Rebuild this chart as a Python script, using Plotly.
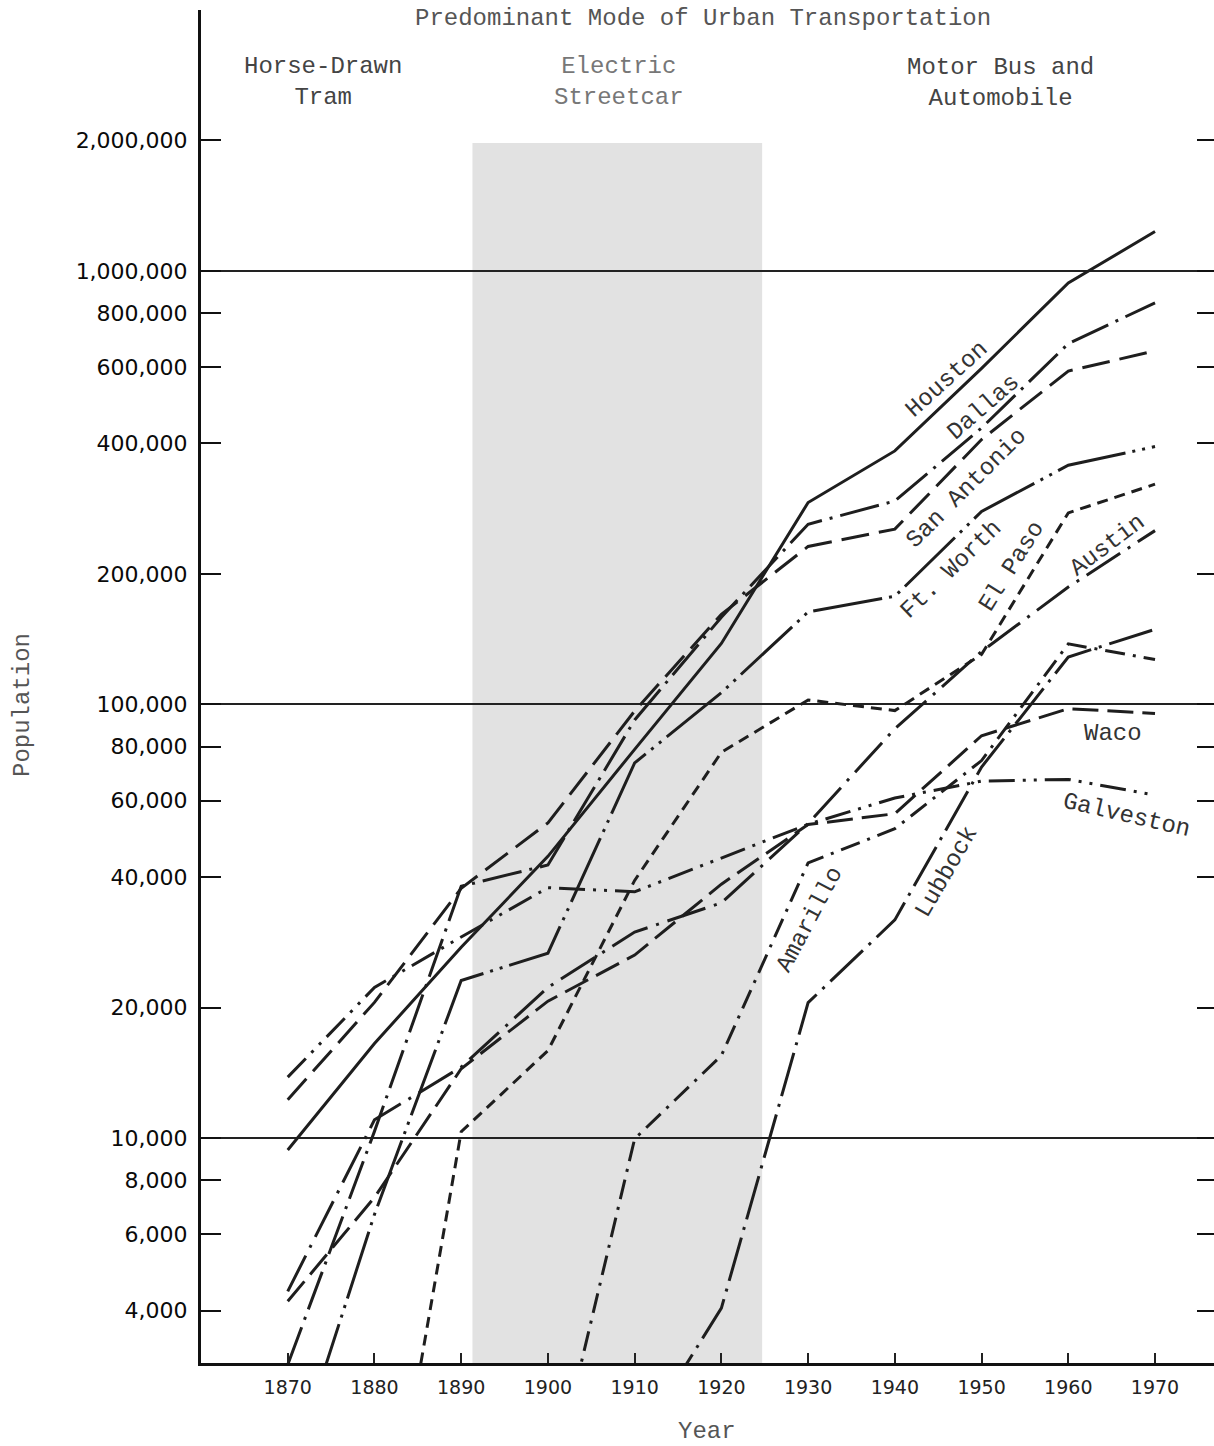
import math
import plotly.graph_objects as go

# ---------------- data (census populations) ----------------
years = [1870, 1880, 1890, 1900, 1910, 1920, 1930, 1940, 1950, 1960, 1970]
years_1880 = years[1:]
years_1900 = years[3:]
years_1910 = years[4:]

houston = [9382, 16513, 27557, 44633, 78800, 138276, 292352, 384514, 596163, 938219, 1232802]
dallas = [3000, 10358, 38067, 42638, 92104, 158976, 260475, 294734, 434462, 679684, 844401]
san_antonio = [12256, 20550, 37673, 53321, 96614, 161379, 231542, 253854, 408442, 587718, 654153]
fort_worth = [1600, 6663, 23076, 26688, 73312, 106482, 163447, 177662, 278778, 356268, 393476]
el_paso = [736, 10338, 15906, 39279, 77560, 102421, 96810, 130485, 276687, 322261]
austin = [4428, 11013, 14575, 22258, 29860, 34876, 53120, 87930, 132459, 186545, 251808]
waco = [4200, 7295, 14445, 20686, 26425, 38500, 52848, 55982, 84706, 97808, 95326]
galveston = [13818, 22248, 29084, 37789, 36981, 44255, 52938, 60862, 66568, 67175, 61809]
amarillo = [1442, 9957, 15494, 43132, 51686, 74246, 137969, 127010]
lubbock = [1938, 4051, 20520, 31853, 71747, 128691, 149101]

streetcar_era = (1891.3, 1924.7)

y_tick_vals = [4000, 6000, 8000, 10000, 20000, 40000, 60000, 80000, 100000,
               200000, 400000, 600000, 800000, 1000000, 2000000]
y_tick_text = ["4,000", "6,000", "8,000", "10,000", "20,000", "40,000", "60,000",
               "80,000", "100,000", "200,000", "400,000", "600,000", "800,000",
               "1,000,000", "2,000,000"]
x_tick_vals = list(range(1870, 1971, 10))
grid_vals = [10000, 100000, 1000000]

# ---------------- styling ----------------
INK = "#1e1e1e"
MONO = "Liberation Mono, Courier New, monospace"
SANS = "DejaVu Sans, Liberation Sans, sans-serif"

series = [
    ("Houston", years, houston, "solid"),
    ("Dallas", years, dallas, "40px,8px,3px,8px"),
    ("San Antonio", years, san_antonio, "28px,10px"),
    ("Ft. Worth", years, fort_worth, "70px,7px,3px,7px,3px,7px"),
    ("El Paso", years_1880, el_paso, "11px,7px"),
    ("Austin", years, austin, "40px,9px,3px,9px"),
    ("Waco", years, waco, "26px,9px"),
    ("Galveston", years, galveston, "26px,8px,3px,8px,3px,8px"),
    ("Amarillo", years_1900, amarillo, "20px,8px,3px,8px"),
    ("Lubbock", years_1910, lubbock, "45px,8px,3px,8px"),
]

fig = go.Figure()
for name, xs, ys, dash in series:
    fig.add_trace(go.Scatter(
        x=xs, y=ys, mode="lines", name=name, showlegend=False,
        line=dict(color=INK, width=3, dash=dash), hoverinfo="skip",
    ))

# invisible trace so the right-hand tick axis is drawn
fig.add_trace(go.Scatter(x=years, y=houston, yaxis="y2", mode="lines",
                         line=dict(width=0), opacity=0, showlegend=False,
                         hoverinfo="skip"))

y_lo = 3.481
y_hi = 6.602

fig.update_layout(
    width=1214, height=1446,
    margin=dict(l=201, r=0, t=10, b=83),
    paper_bgcolor="white", plot_bgcolor="white",
    showlegend=False,
    xaxis=dict(
        range=[1860, 1976.8], showgrid=False, zeroline=False,
        showline=True, linecolor="#111", linewidth=3,
        ticks="inside", ticklen=10, tickwidth=1.5, tickcolor="#222",
        tickvals=x_tick_vals, ticktext=[str(v) for v in x_tick_vals],
        tickfont=dict(family=SANS, size=19, color="#222"),
        ticklabelstandoff=5,
    ),
    yaxis=dict(
        type="log", range=[y_lo, y_hi], showgrid=False, zeroline=False,
        showline=True, linecolor="#111", linewidth=3,
        ticks="inside", ticklen=20, tickwidth=2, tickcolor="#111",
        tickvals=y_tick_vals, ticktext=y_tick_text,
        tickfont=dict(family=SANS, size=22, color="#0a0a0a"),
        ticklabelstandoff=6,
        minor=dict(tickvals=grid_vals, showgrid=True, gridcolor="#222",
                   gridwidth=1.5, ticks=""),
    ),
    yaxis2=dict(
        type="log", range=[y_lo, y_hi], overlaying="y", side="right",
        showgrid=False, zeroline=False, showline=False,
        ticks="inside", ticklen=17, tickwidth=2, tickcolor="#111",
        tickvals=y_tick_vals, showticklabels=False,
    ),
)

# streetcar era shading
fig.add_shape(type="rect", xref="x", yref="paper",
              x0=streetcar_era[0], x1=streetcar_era[1], y0=0, y1=0.9017,
              fillcolor="#e2e2e2", line=dict(width=0), layer="below")

def px_to_paper_y(py):
    return (1363 - py) / 1353.0

def px_to_paper_x(px):
    return (px - 201) / 1013.0

# header text
headers = [
    ("Predominant Mode of Urban Transportation", 703, 19, "#555"),
    ("Horse-Drawn<br>Tram", 323, 82, "#444"),
    ("Electric<br>Streetcar", 619, 82, "#777"),
    ("Motor Bus and<br>Automobile", 1000, 83, "#444"),
]
for txt, px, py, col in headers:
    fig.add_annotation(text=txt, xref="paper", yref="paper",
                       x=px_to_paper_x(px), y=px_to_paper_y(py),
                       xanchor="center", yanchor="middle", showarrow=False,
                       font=dict(family=MONO, size=24, color=col), align="center")

# axis titles
fig.add_annotation(text="Year", xref="paper", yref="paper",
                   x=px_to_paper_x(707), y=px_to_paper_y(1431),
                   showarrow=False, xanchor="center", yanchor="middle",
                   font=dict(family=MONO, size=24, color="#555"))
fig.add_annotation(text="Population", xref="paper", yref="paper",
                   x=px_to_paper_x(22), y=px_to_paper_y(705), textangle=-90,
                   showarrow=False, xanchor="center", yanchor="middle",
                   font=dict(family=MONO, size=24, color="#555"))

# city labels (center pixel positions and angles)
labels = [
    ("Houston", 947, 380, -42),
    ("Dallas", 983, 407, -41),
    ("San Antonio", 966, 488, -45),
    ("Ft. Worth", 951, 569, -44),
    ("El Paso", 1012, 567, -58),
    ("Austin", 1107, 545, -37),
    ("Waco", 1113, 733, 0),
    ("Galveston", 1127, 815, 13),
    ("Amarillo", 809, 920, -62),
    ("Lubbock", 946, 872, -60),
]
for txt, px, py, ang in labels:
    fig.add_annotation(text=txt, xref="paper", yref="paper",
                       x=px_to_paper_x(px), y=px_to_paper_y(py), textangle=ang,
                       showarrow=False, xanchor="center", yanchor="middle",
                       font=dict(family=MONO, size=24, color="#333"))

fig.write_html("out.html")
